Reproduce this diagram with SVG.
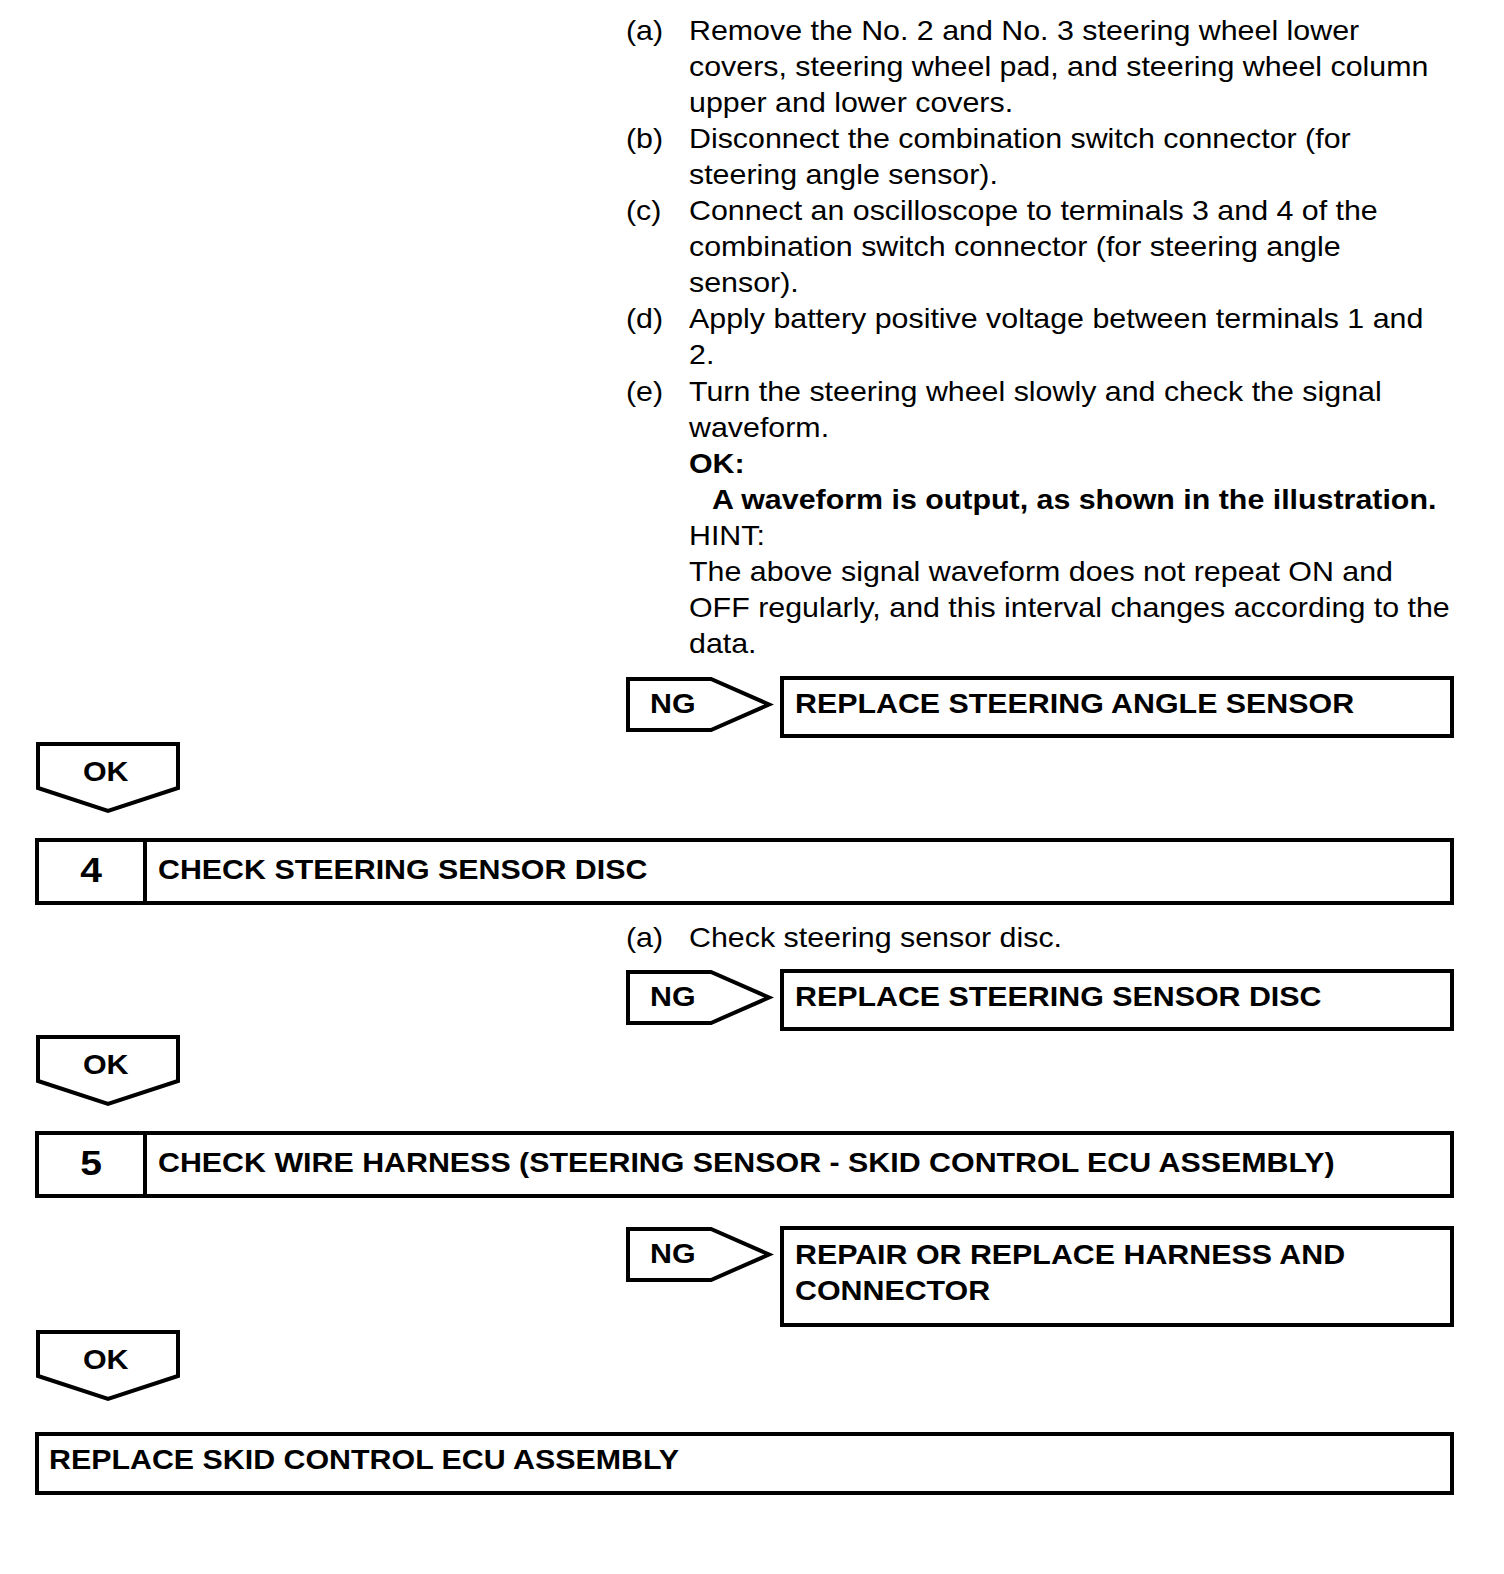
<svg xmlns="http://www.w3.org/2000/svg" width="1504" height="1574" viewBox="0 0 1504 1574">
<style>
  .t { font-family: "Liberation Sans", Arial, Helvetica, sans-serif; font-size: 28px; fill: #000; }
  .b { font-family: "Liberation Sans", Arial, Helvetica, sans-serif; font-size: 28px; font-weight: bold; fill: #000; }
  .n { font-family: "Liberation Sans", Arial, Helvetica, sans-serif; font-size: 36px; font-weight: bold; fill: #000; text-anchor: middle; }
  .box { fill: #fff; stroke: #000; stroke-width: 4; }
  .tag { fill: #fff; stroke: #000; stroke-width: 4; stroke-linejoin: miter; }
</style>
<rect width="1504" height="1574" fill="#fff"/>

<g id="step3-text">
  <text class="t" transform="translate(626 40) scale(1.085 1)">(a)</text>
  <text class="t" transform="translate(689 40) scale(1.085 1)">Remove the No. 2 and No. 3 steering wheel lower</text>
  <text class="t" transform="translate(689 76) scale(1.085 1)">covers, steering wheel pad, and steering wheel column</text>
  <text class="t" transform="translate(689 112) scale(1.085 1)">upper and lower covers.</text>
  <text class="t" transform="translate(626 148) scale(1.085 1)">(b)</text>
  <text class="t" transform="translate(689 148) scale(1.085 1)">Disconnect the combination switch connector (for</text>
  <text class="t" transform="translate(689 184) scale(1.085 1)">steering angle sensor).</text>
  <text class="t" transform="translate(626 220) scale(1.085 1)">(c)</text>
  <text class="t" transform="translate(689 220) scale(1.085 1)">Connect an oscilloscope to terminals 3 and 4 of the</text>
  <text class="t" transform="translate(689 256) scale(1.085 1)">combination switch connector (for steering angle</text>
  <text class="t" transform="translate(689 292) scale(1.085 1)">sensor).</text>
  <text class="t" transform="translate(626 328) scale(1.085 1)">(d)</text>
  <text class="t" transform="translate(689 328) scale(1.085 1)">Apply battery positive voltage between terminals 1 and</text>
  <text class="t" transform="translate(689 364) scale(1.085 1)">2.</text>
  <text class="t" transform="translate(626 401) scale(1.085 1)">(e)</text>
  <text class="t" transform="translate(689 401) scale(1.085 1)">Turn the steering wheel slowly and check the signal</text>
  <text class="t" transform="translate(689 437) scale(1.085 1)">waveform.</text>
  <text class="b" transform="translate(689 473) scale(1.085 1)">OK:</text>
  <text class="b" transform="translate(712 509) scale(1.085 1)">A waveform is output, as shown in the illustration.</text>
  <text class="t" transform="translate(689 545) scale(1.085 1)">HINT:</text>
  <text class="t" transform="translate(689 581) scale(1.085 1)">The above signal waveform does not repeat ON and</text>
  <text class="t" transform="translate(689 617) scale(1.085 1)">OFF regularly, and this interval changes according to the</text>
  <text class="t" transform="translate(689 653) scale(1.085 1)">data.</text>
</g>

<g id="result-ng1">
  <rect class="box" x="782" y="678" width="670" height="58"/>
  <text class="b" transform="translate(795 713) scale(1.085 1)">REPLACE STEERING ANGLE SENSOR</text>
</g>

<g id="step4">
  <rect class="box" x="37" y="840" width="1415" height="63"/>
  <line x1="145" y1="840" x2="145" y2="903" stroke="#000" stroke-width="4"/>
  <text class="n" transform="translate(91 882) scale(1.085 1)">4</text>
  <text class="b" transform="translate(158 879) scale(1.085 1)">CHECK STEERING SENSOR DISC</text>
</g>

<g id="step4-text">
  <text class="t" transform="translate(626 947) scale(1.085 1)">(a)</text>
  <text class="t" transform="translate(689 947) scale(1.085 1)">Check steering sensor disc.</text>
</g>

<g id="result-ng2">
  <rect class="box" x="782" y="971" width="670" height="58"/>
  <text class="b" transform="translate(795 1006) scale(1.085 1)">REPLACE STEERING SENSOR DISC</text>
</g>

<g id="step5">
  <rect class="box" x="37" y="1133" width="1415" height="63"/>
  <line x1="145" y1="1133" x2="145" y2="1196" stroke="#000" stroke-width="4"/>
  <text class="n" transform="translate(91 1175) scale(1.085 1)">5</text>
  <text class="b" transform="translate(158 1172) scale(1.085 1)">CHECK WIRE HARNESS (STEERING SENSOR - SKID CONTROL ECU ASSEMBLY)</text>
</g>

<g id="result-ng3">
  <rect class="box" x="782" y="1228" width="670" height="97"/>
  <text class="b" transform="translate(795 1264) scale(1.085 1)">REPAIR OR REPLACE HARNESS AND</text>
  <text class="b" transform="translate(795 1300) scale(1.085 1)">CONNECTOR</text>
</g>

<g id="result-final">
  <rect class="box" x="37" y="1434" width="1415" height="59"/>
  <text class="b" transform="translate(49 1469) scale(1.085 1)">REPLACE SKID CONTROL ECU ASSEMBLY</text>
</g>

<g id="connectors">
  <g id="ng1">
    <polygon class="tag" points="628,679 711,679 769,704.5 711,730 628,730"/>
    <text class="b" transform="translate(650 713) scale(1.085 1)">NG</text>
  </g>
  <g id="ok1">
    <polygon class="tag" points="38,744 178,744 178,788 108,811 38,788"/>
    <text class="b" transform="translate(83 781) scale(1.085 1)">OK</text>
  </g>
  <g id="ng2">
    <polygon class="tag" points="628,972 711,972 769,997.5 711,1023 628,1023"/>
    <text class="b" transform="translate(650 1006) scale(1.085 1)">NG</text>
  </g>
  <g id="ok2">
    <polygon class="tag" points="38,1037 178,1037 178,1081 108,1104 38,1081"/>
    <text class="b" transform="translate(83 1074) scale(1.085 1)">OK</text>
  </g>
  <g id="ng3">
    <polygon class="tag" points="628,1229 711,1229 769,1254.5 711,1280 628,1280"/>
    <text class="b" transform="translate(650 1263) scale(1.085 1)">NG</text>
  </g>
  <g id="ok3">
    <polygon class="tag" points="38,1332 178,1332 178,1376 108,1399 38,1376"/>
    <text class="b" transform="translate(83 1369) scale(1.085 1)">OK</text>
  </g>
</g>
</svg>
